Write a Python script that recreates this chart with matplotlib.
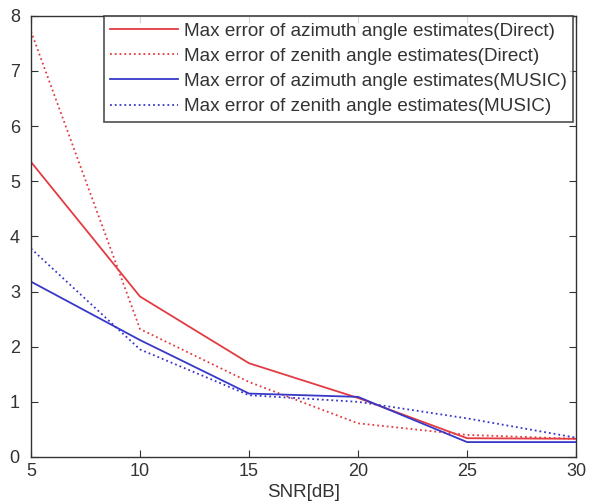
import matplotlib
matplotlib.use("Agg")
import matplotlib.pyplot as plt

snr = [5, 10, 15, 20, 25, 30]
az_direct = [5.35, 2.91, 1.70, 1.07, 0.34, 0.33]
ze_direct = [7.72, 2.32, 1.36, 0.61, 0.40, 0.33]
az_music = [3.18, 2.12, 1.15, 1.09, 0.27, 0.27]
ze_music = [3.78, 1.95, 1.12, 1.00, 0.70, 0.35]
labels = [
    "Max error of azimuth angle estimates(Direct)",
    "Max error of zenith angle estimates(Direct)",
    "Max error of azimuth angle estimates(MUSIC)",
    "Max error of zenith angle estimates(MUSIC)",
]
xticks = [5, 10, 15, 20, 25, 30]
yticks = [0, 1, 2, 3, 4, 5, 6, 7, 8]

plt.rcParams['font.family'] = ['Liberation Sans', 'DejaVu Sans']
fig = plt.figure(figsize=(5.9, 5.03), dpi=100)
ax = fig.add_axes([0.0525, 0.0915, 0.924, 0.877])

red = '#e23c42'
blue = '#3838c8'
ax.plot(snr, az_direct, '-', color=red, lw=1.3, label=labels[0])
ax.plot(snr, ze_direct, ':', color=red, lw=1.3, label=labels[1])
ax.plot(snr, az_music, '-', color=blue, lw=1.3, label=labels[2])
ax.plot(snr, ze_music, ':', color=blue, lw=1.3, label=labels[3])

ax.set_xlim(5, 30)
ax.set_ylim(0, 8)
ax.set_xticks(xticks)
ax.set_yticks(yticks)
ax.tick_params(direction='in', top=True, right=True, labelsize=13,
               colors='#333333', length=5)
ax.tick_params(axis='y', pad=8)
ax.tick_params(axis='x', pad=4)
for s in ax.spines.values():
    s.set_color('#333333')
    s.set_linewidth(1.0)
ax.set_xlabel('SNR[dB]', fontsize=13.5, color='#333333', labelpad=3)

leg = ax.legend(loc='upper right', fontsize=13.6, frameon=True, fancybox=False,
                edgecolor='#222222', handlelength=3.6, borderaxespad=0.0,
                bbox_to_anchor=(0.995, 1.0),
                labelspacing=0.42, borderpad=0.35, handletextpad=0.3)
leg.get_frame().set_linewidth(1.2)
for t in leg.get_texts():
    t.set_color('#333333')

fig.savefig('out.png', dpi=100)
